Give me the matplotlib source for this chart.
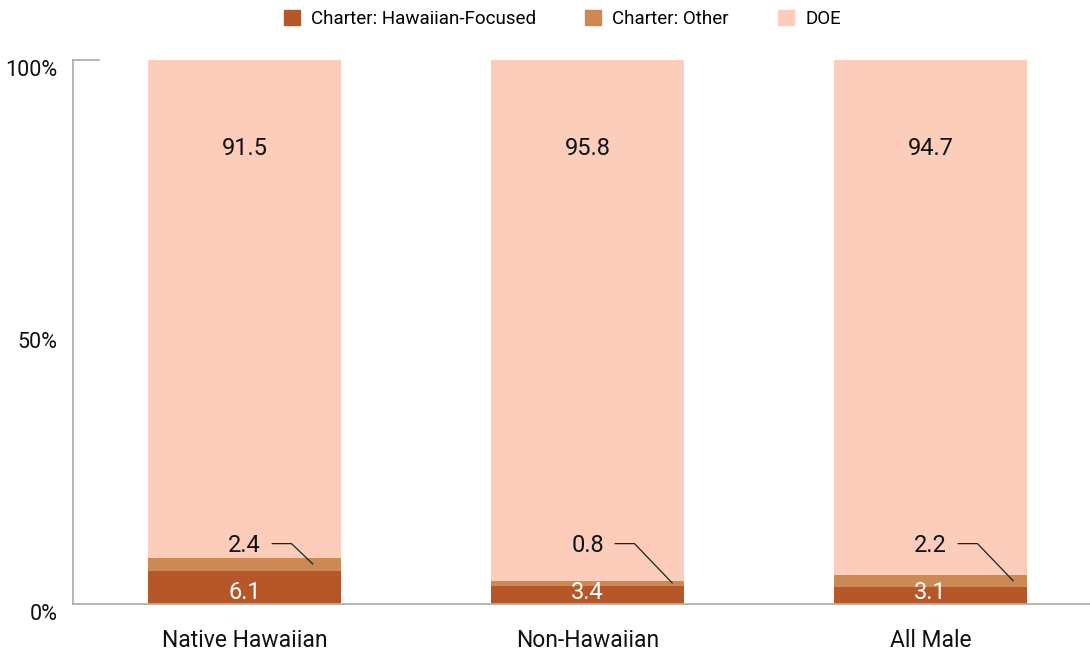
import matplotlib.pyplot as plt
from matplotlib.patches import Patch

plt.rcParams['font.family'] = ['Roboto', 'DejaVu Sans']

groups = ["Native Hawaiian", "Non-Hawaiian", "All Male"]
charter_hi = [6.1, 3.4, 3.1]
charter_other = [2.4, 0.8, 2.2]
doe = [91.5, 95.8, 94.7]
series_names = ["Charter: Hawaiian-Focused", "Charter: Other", "DOE"]
colors = ["#B55728", "#CC8855", "#FBCDBA"]

fig = plt.figure(figsize=(10.9, 6.55), dpi=100)
ax = fig.add_axes([73 / 1090, 51 / 655, 1017 / 1090, 544 / 655])

x = range(len(groups))
w = 0.56
ax.bar(x, charter_hi, w, color=colors[0])
ax.bar(x, charter_other, w, bottom=charter_hi, color=colors[1])
bottoms = [a + b for a, b in zip(charter_hi, charter_other)]
ax.bar(x, doe, w, bottom=bottoms, color=colors[2])

ax.set_xlim(-0.5, 2.465)
ax.set_ylim(0, 100)

# labels
for i in x:
    ax.text(i, 83.8, "{:.1f}".format(doe[i]), ha='center', va='center', fontsize=17, color='#111111')
    ax.text(i, 2.2, "{:.1f}".format(charter_hi[i]), ha='center', va='center', fontsize=17, color='white')
    ax.text(i, 10.8, "{:.1f}".format(charter_other[i]), ha='center', va='center', fontsize=17, color='#111111')

# leader lines for the thin segment
end_dx = [0.20, 0.248, 0.242]
for i in x:
    ymid = charter_hi[i] + charter_other[i] / 2
    ax.plot([i + 0.079, i + 0.137, i + end_dx[i]], [11.1, 11.1, ymid],
            color='#222222', lw=0.9, solid_capstyle='butt')

for s in ['top', 'right']:
    ax.spines[s].set_visible(False)
ax.spines['left'].set_color('#b0b0b0')
ax.spines['bottom'].set_color('#b0b0b0')
ax.spines['left'].set_linewidth(1.3)
ax.spines['bottom'].set_linewidth(1.3)
ax.plot([-0.5, -0.425], [100, 100], color='#b0b0b0', lw=1.3, clip_on=False)

ax.set_yticks([0, 50, 100])
ax.set_yticklabels(["0%", "50%", "100%"], fontsize=15.5, color='#111111', va='top')
ax.tick_params(axis='y', length=0, pad=11)
ax.set_xticks(list(x))
ax.set_xticklabels(groups, fontsize=16.5, color='#111111')
ax.tick_params(axis='x', length=0, pad=18)

handles = [Patch(color=c) for c in colors]
fig.legend(handles, series_names, loc='upper center', bbox_to_anchor=(0.516, 1.01),
           ncol=3, frameon=False, fontsize=13.5, handlelength=0.85, handleheight=0.85,
           handletextpad=0.6, columnspacing=2.6)

fig.savefig("out.png", dpi=100)
